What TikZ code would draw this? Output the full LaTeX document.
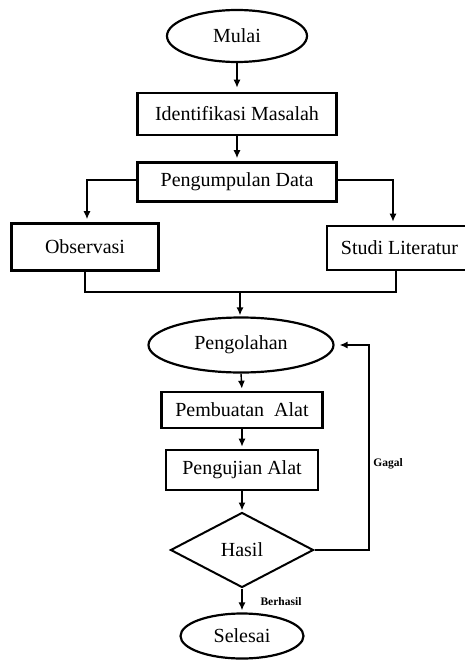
\documentclass[tikz,border=0pt]{standalone}
\usepackage{fontspec}
\setmainfont{Liberation Serif}
\usetikzlibrary{shapes.geometric,arrows.meta}
\begin{document}
\begin{tikzpicture}[x=1pt,y=-1pt,
  every node/.style={font=\fontsize{20}{24}\selectfont, inner sep=0pt},
  procbox/.style={draw, rectangle, line width=2.6pt},
  termin/.style={draw, ellipse, line width=2.2pt},
  decis/.style={draw, diamond, line width=2pt},
  conn/.style={line width=1.4pt},
  arr/.style={conn, -{Latex[length=8pt,width=7pt]}},
  smalllbl/.style={font=\fontsize{11.5}{13}\selectfont\bfseries}
]
\clip (0,0) rectangle (465,661);
\node[termin, minimum width=140pt, minimum height=52pt] (mulai) at (237,36) {Mulai};
\node[procbox, minimum width=199pt, minimum height=42pt] (idm) at (237,114) {Identifikasi Masalah};
\node[procbox, minimum width=199pt, minimum height=39pt] (pd) at (237,182) {Pengumpulan Data};
\node[procbox, minimum width=147pt, minimum height=47pt] (obs) at (85,247) {Observasi};
\node[procbox, minimum width=145pt, minimum height=44pt] (stl) at (399.5,248) {Studi Literatur};
\node[termin, minimum width=185pt, minimum height=55pt] (olah) at (241,345) {Pengolahan};
\node[procbox, minimum width=161pt, minimum height=36pt] (buat) at (242,410) {Pembuatan\hspace{0.25em} Alat};
\node[procbox, minimum width=152pt, minimum height=40pt] (uji) at (242,470) {Pengujian Alat};
\node[decis, minimum width=143pt, minimum height=75pt] (hasil) at (242,550) {Hasil};
\node[termin, minimum width=123pt, minimum height=45pt] (selesai) at (242,636) {Selesai};

\node[smalllbl] (gagal) at (388,464) {Gagal};
\node[smalllbl] (berhasil) at (281,602) {Berhasil};

\coordinate (obsin) at (87,0);
\coordinate (stlin) at (393,0);
\coordinate (merge) at (240,292);
\coordinate (loop) at (369,0);

\draw[arr, shorten >=4pt] (mulai.south) -- (idm.north);
\draw[arr, shorten >=3pt] (idm.south) -- (pd.north);
\draw[arr, shorten >=3pt] (pd.west |- 0,180) -| (obsin |- obs.north);
\draw[arr, shorten >=3pt] (pd.east |- 0,180) -| (stlin |- stl.north);
\draw[conn] (obs.south) |- (merge);
\draw[conn] (396,0 |- stl.south) |- (merge);
\draw[arr, shorten >=1pt] (merge) -- (merge |- olah.north);
\draw[arr, shorten >=2pt] (olah.south) -- (buat.north);
\draw[arr, shorten >=2pt] (buat.south) -- (uji.north);
\draw[arr, shorten >=1pt] (uji.south) -- (hasil.north);
\draw[arr, shorten >=2pt] (hasil.south) -- (selesai.north);
\draw[arr, shorten >=5pt] (hasil.east) -| (loop |- olah.east) -- (olah.east);
\end{tikzpicture}
\end{document}
